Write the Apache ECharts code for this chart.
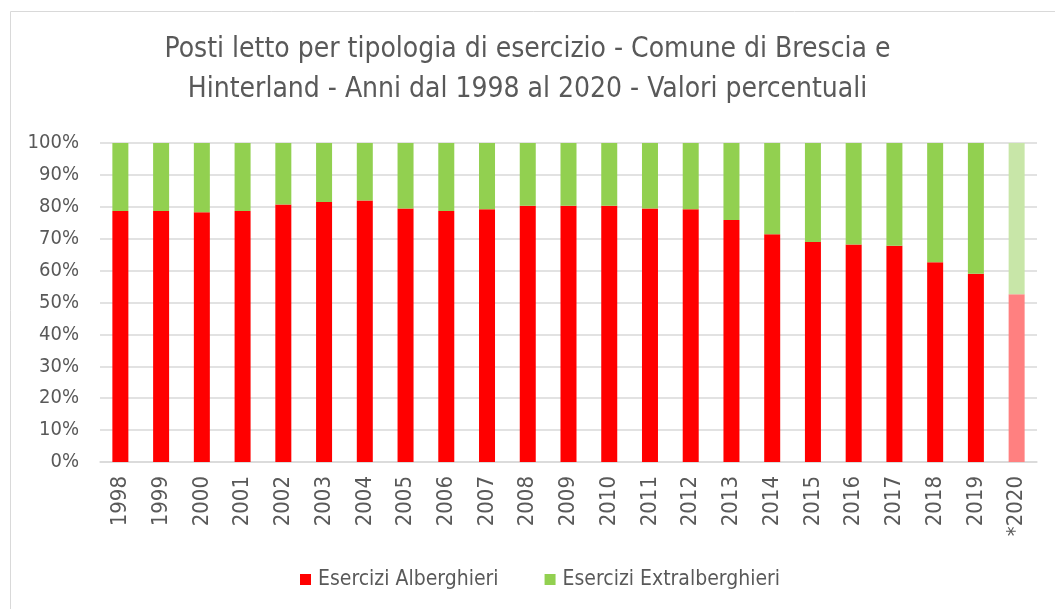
<!DOCTYPE html>
<html>
<head>
<meta charset="utf-8">
<script src="https://cdn.jsdelivr.net/npm/echarts@6/dist/echarts.min.js"></script>
<style>
  html, body { margin: 0; padding: 0; background: #fff; }
  #chart { width: 1055px; height: 609px; }
</style>
</head>
<body>
<div id="chart"></div>
<script>
var years = ['1998', '1999', '2000', '2001', '2002', '2003', '2004', '2005', '2006', '2007', '2008',
  '2009', '2010', '2011', '2012', '2013', '2014', '2015', '2016', '2017', '2018', '2019', '*2020'];
var alberghieri = [78.7, 78.7, 78.3, 78.7, 80.7, 81.5, 82.0, 79.5, 78.7, 79.2, 80.3,
  80.3, 80.3, 79.5, 79.2, 75.9, 71.4, 69.0, 68.2, 67.8, 62.6, 59.0, 52.6];
var extralberghieri = [21.3, 21.3, 21.7, 21.3, 19.3, 18.5, 18.0, 20.5, 21.3, 20.8, 19.7,
  19.7, 19.7, 20.5, 20.8, 24.1, 28.6, 31.0, 31.8, 32.2, 37.4, 41.0, 47.4];
var seriesNames = ['Esercizi Alberghieri', 'Esercizi Extralberghieri'];

var red = '#ff0000', green = '#92d050';
var redLight = '#ff8080', greenLight = '#c8e6a8';
var text = '#595959', grid = '#d9d9d9';
var font = "'Liberation Sans Narrow', 'DejaVu Sans Condensed', 'Open Sans', sans-serif";

// last year is provisional: drawn in pale colours
function styled(values, light) {
  return values.map(function(v, i) {
    return i === values.length - 1 ? { value: v, itemStyle: { color: light } } : v;
  });
}

var chart = echarts.init(document.getElementById('chart'), null, { renderer: 'canvas' });
chart.setOption({
  animation: false,
  textStyle: { fontFamily: font },
  title: {
    text: 'Posti letto per tipologia di esercizio - Comune di Brescia e\nHinterland - Anni dal 1998 al 2020 - Valori percentuali',
    left: 'center',
    top: 25,
    textStyle: { color: text, fontSize: 28, fontWeight: 'normal', lineHeight: 40, fontFamily: font }
  },
  graphic: [{
    type: 'rect',
    shape: { x: 10.5, y: 11.5, width: 1060, height: 620 },
    style: { fill: 'none', stroke: '#d9d9d9', lineWidth: 1 },
    silent: true
  }],
  legend: {
    data: seriesNames,
    top: 564,
    left: 295,
    icon: 'rect',
    itemWidth: 11, itemHeight: 11,
    itemGap: 46,
    textStyle: { color: text, fontSize: 21, fontFamily: font, padding: [0, 0, 0, 2] }
  },
  grid: { left: 100, right: 18, top: 143, bottom: 147 },
  xAxis: {
    type: 'category',
    data: years,
    axisLine: { lineStyle: { color: grid, width: 1.5 } },
    axisTick: { show: false },
    axisLabel: { rotate: 90, color: text, fontSize: 22, margin: 14, fontFamily: font }
  },
  yAxis: {
    type: 'value',
    min: 0, max: 100, interval: 10,
    axisLine: { show: false },
    axisTick: { show: false },
    axisLabel: { formatter: '{value}%', color: text, fontSize: 20, margin: 21, fontFamily: font },
    splitLine: { lineStyle: { color: grid, width: 1.5 } }
  },
  series: [
    {
      name: seriesNames[0],
      type: 'bar',
      stack: 'tot',
      barWidth: 16,
      itemStyle: { color: red },
      data: styled(alberghieri, redLight)
    },
    {
      name: seriesNames[1],
      type: 'bar',
      stack: 'tot',
      barWidth: 16,
      itemStyle: { color: green },
      data: styled(extralberghieri, greenLight)
    }
  ]
});
</script>
</body>
</html>
